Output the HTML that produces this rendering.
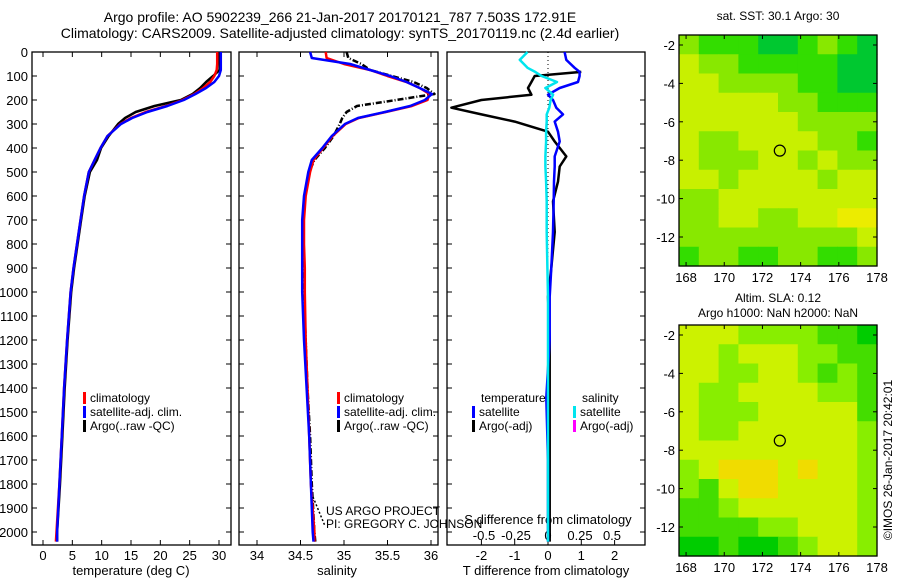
<!DOCTYPE html>
<html><head><meta charset="utf-8"><style>
body{margin:0;background:#fff;}
svg{display:block;font-family:"Liberation Sans",sans-serif;}
</style></head><body>
<svg id="fig" width="900" height="580" viewBox="0 0 900 580"></svg>
<script>
// ---------- data ----------
const depths = [0,25,50,75,100,125,150,175,200,225,250,275,300,350,400,450,500,600,700,800,900,1000,1200,1400,1600,1800,2000,2040];
const tempClim = [29.7,29.7,29.7,29.6,29.2,28.5,27.3,25.8,23.8,21,17.5,15,13.2,11,9.8,8.8,7.8,7,6.4,5.8,5.2,4.7,4.1,3.6,3.2,2.8,2.3,2.2];
const tempSat  = [30.3,30.3,30.3,30.3,30.0,29.2,27.8,26,24,21.2,17.8,15.2,13.3,11,9.8,8.8,7.8,7,6.4,5.8,5.2,4.7,4.1,3.6,3.2,2.8,2.4,2.4];
const tempArgo = [30.1,30.1,30.1,30.1,29.0,27.8,26.8,25.5,23.5,19,15.8,14,12.8,11.2,9.9,9.2,8.0,7.1,6.5,5.9,5.3,4.8,4.2,3.7,3.3,2.9,2.4,2.4];
const salClim = [34.79,34.80,35.0,35.3,35.5,35.72,35.87,35.98,35.96,35.78,35.48,35.17,35.02,34.87,34.76,34.65,34.61,34.56,34.54,34.54,34.55,34.55,34.56,34.58,34.6,34.62,34.66,34.66];
const salSat  = [34.61,34.63,35.07,35.3,35.53,35.72,35.87,36.01,35.93,35.76,35.47,35.16,35.01,34.86,34.75,34.63,34.59,34.54,34.52,34.52,34.52,34.52,34.54,34.57,34.6,34.62,34.64,34.65];
const salArgo = [35.03,35.05,35.2,35.3,35.55,35.8,35.95,36.04,35.6,35.15,35.03,34.98,34.95,34.88,34.78,34.66,34.6,34.55,34.53,34.53,34.54,34.54,34.56,34.58,34.61,34.63,34.66,34.67];
const diffDepths = [0,33,66,83,100,125,150,178,200,232,260,290,332,373,435,477,540,622,750,900,1020,1200,1440,1700,2000,2040];
const dTArgo = [null,null,null,1.0,-0.4,-0.5,-0.6,-0.5,-2.0,-2.9,-2.0,-1.0,0.0,0.2,0.55,0.35,0.3,0.15,0.2,0.1,0.0,0.05,0.05,0.05,0.05,0.05];
const dTSat  = [0.5,0.55,0.8,0.95,0.95,0.9,0.35,0.0,0.15,0.25,0.45,0.2,0.3,0.35,0.2,0.2,0.18,0.17,0.15,0.1,0.05,0.05,-0.05,0.0,0.0,0.0];
const dSSat  = [-0.16,-0.22,-0.16,-0.1,-0.05,0.07,-0.02,0.04,0.02,0.01,-0.01,-0.01,-0.015,-0.015,-0.02,-0.02,-0.015,-0.01,-0.01,-0.005,0.0,0.0,0.0,0.0,0.0,0.0];
const depthTicks = [0,100,200,300,400,500,600,700,800,900,1000,1100,1200,1300,1400,1500,1600,1700,1800,1900,2000];
const tempTicks = [0,5,10,15,20,25,30];
const salTicks = [34,34.5,35,35.5,36];
const dTTicks = [-2,-1,0,1,2];
const dSTicks = [-0.5,-0.25,0,0.25,0.5];
const lonTicks = [168,170,172,174,176,178];
const latTicks = [-2,-4,-6,-8,-10,-12];
const sstGrid = [
[2,1,1,1,0,0,1,2,1,0],
[3,2,2,1,1,1,1,1,0,0],
[3,3,2,2,2,2,1,1,0,0],
[3,3,3,3,3,2,2,1,1,1],
[3,3,3,3,3,3,2,2,2,2],
[3,2,2,3,3,3,3,2,2,1],
[3,2,2,2,3,3,2,3,2,2],
[3,3,2,3,3,3,3,2,3,3],
[2,2,3,3,3,3,3,3,3,3],
[2,2,3,3,2,2,3,3,4,4],
[2,2,2,2,2,2,2,2,2,3],
[1,2,2,1,1,2,2,1,1,2]];
const slaGrid = [
[3,3,3,2,2,2,2,1,1,0],
[3,3,2,3,3,3,2,2,1,1],
[3,3,2,2,3,3,2,1,2,1],
[3,2,2,3,3,3,3,2,2,1],
[3,2,2,2,3,3,3,3,3,1],
[3,2,2,3,3,3,3,3,3,2],
[3,3,3,3,3,3,3,3,3,2],
[2,3,4,4,4,3,4,3,3,2],
[2,1,3,4,4,3,3,3,3,2],
[1,1,2,3,3,3,3,3,3,2],
[1,1,1,1,2,2,3,3,3,2],
[0,0,1,0,0,1,2,3,3,2]];
const argoLon = 172.91, argoLat = -7.503;

// ---------- helpers ----------
const svg = document.getElementById('fig');
const NS = 'http://www.w3.org/2000/svg';
function mk(tag, attrs, name, parent){
  const el = document.createElementNS(NS, tag);
  for (const k in attrs) el.setAttribute(k, attrs[k]);
  
  
  (parent||svg).appendChild(el);
  return el;
}
function txt(x,y,s,name,opts){
  opts = opts||{};
  const t = mk('text',{x:x,y:y,'font-size':opts.size||13,'text-anchor':opts.anchor||'middle',fill:opts.fill||'#000'},name);
  if (opts.transform) t.setAttribute('transform', opts.transform);
  t.textContent = s;
  return t;
}
const yTop = 52, yPer = (532-52)/2000, yBot = 545;
const yD = d => yTop + d*yPer;

function panel(x0,x1,name){
  mk('rect',{x:x0,y:yTop,width:x1-x0,height:yBot-yTop,fill:'none',stroke:'#000','stroke-width':1.3},name+'-frame');
}
function yTicks(x0,x1,labels,name){
  depthTicks.forEach(d=>{
    const y=yD(d);
    mk('line',{x1:x0,y1:y,x2:x0+5,y2:y,stroke:'#000'},name+'-ytick');
    mk('line',{x1:x1,y1:y,x2:x1-5,y2:y,stroke:'#000'},name+'-ytick');
    if(labels) txt(x0-4,y+5,String(d),'depth-tick-label',{anchor:'end'});
  });
}
function xTicks(vals,fx,name,labelY,top){
  vals.forEach(v=>{
    const x=fx(v);
    mk('line',{x1:x,y1:yBot,x2:x,y2:yBot-5,stroke:'#000'},name+'-xtick');
    if(top) mk('line',{x1:x,y1:yTop,x2:x,y2:yTop+5,stroke:'#000'},name+'-xtick');
    if(labelY) txt(x,labelY,String(v),name+'-tick-label');
  });
}
function line(xs,ds,fx,color,w,name,dash){
  let p='', pen=false;
  xs.forEach((v,i)=>{
    if(v===null){pen=false;return;}
    p += (pen?'L':'M')+fx(v).toFixed(1)+' '+yD(ds[i]).toFixed(1)+' ';
    pen=true;
  });
  const a={d:p,fill:'none',stroke:color,'stroke-width':w,'stroke-linejoin':'round'};
  if(dash) a['stroke-dasharray']=dash;
  mk('path',a,name);
}
function legendEntry(x,y,color,label,name){
  mk('rect',{x:x,y:y-10,width:3,height:12,fill:color},name+'-swatch');
  txt(x+7,y,label,name,{anchor:'start',size:12});
}

// ---------- titles ----------
txt(340,22,'Argo profile: AO 5902239_266 21-Jan-2017 20170121_787 7.503S 172.91E','title-line-1',{size:14});
txt(340,38,'Climatology: CARS2009. Satellite-adjusted climatology: synTS_20170119.nc (2.4d earlier)','title-line-2',{size:14});

// ---------- panel 1: temperature ----------
const fT = t => 43 + t*(176/30);
panel(32,231,'temperature-panel');
yTicks(32,231,true,'temperature');
xTicks(tempTicks,fT,'temperature',560,true);
txt(131,575,'temperature (deg C)','temperature-axis-title');
line(tempArgo,depths,fT,'#000',2.5,'temperature-argo-line');
line(tempClim,depths,fT,'#f00',2.5,'temperature-climatology-line');
line(tempSat,depths,fT,'#00f',2.5,'temperature-satellite-line');
legendEntry(83,402,'#f00','climatology','temp-legend-climatology');
legendEntry(83,416,'#00f','satellite-adj. clim.','temp-legend-satellite');
legendEntry(83,430,'#000','Argo(..raw -QC)','temp-legend-argo');

// ---------- panel 2: salinity ----------
const fS = s => 257 + (s-34)*87;
panel(239,438,'salinity-panel');
yTicks(239,438,false,'salinity');
xTicks(salTicks,fS,'salinity',560,true);
txt(337,575,'salinity','salinity-axis-title');
line(salArgo,depths,fS,'#000',2.5,'salinity-argo-line','6 2 1 2');
line(salClim,depths,fS,'#f00',2.5,'salinity-climatology-line');
line(salSat,depths,fS,'#00f',2.5,'salinity-satellite-line');
legendEntry(337,402,'#f00','climatology','sal-legend-climatology');
legendEntry(337,416,'#00f','satellite-adj. clim.','sal-legend-satellite');
legendEntry(337,430,'#000','Argo(..raw -QC)','sal-legend-argo');
mk('path',{d:'M313 497 L325 526',stroke:'#000','stroke-width':1.5,'stroke-dasharray':'2 2',fill:'none'},'project-pointer');
txt(326,515,'US ARGO PROJECT','project-credit',{anchor:'start',size:12});
txt(326,528,'PI: GREGORY C. JOHNSON','pi-credit',{anchor:'start',size:12});

// ---------- panel 3: differences ----------
const fdT = t => 548 + t*33.3;
const fdS = s => 548 + s*128;
panel(447,645,'difference-panel');
yTicks(447,645,false,'difference');
xTicks(dTTicks,fdT,'t-difference',560,false);
dSTicks.forEach(v=>txt(fdS(v),540,String(v),'s-difference-tick-label'));
txt(548,524,'S difference from climatology','s-difference-axis-title');
txt(546,575,'T difference from climatology','t-difference-axis-title');
mk('line',{x1:fdT(0),y1:yTop,x2:fdT(0),y2:yBot,stroke:'#000','stroke-dasharray':'1 3'},'zero-line');
line(dTArgo,diffDepths,fdT,'#000',2.5,'t-difference-argo-line');
line(dTSat,diffDepths,fdT,'#00f',2.5,'t-difference-satellite-line');
line(dSSat,diffDepths,fdS,'#00e5ee',2.5,'s-difference-satellite-line');
txt(481,402,'temperature','diff-legend-temperature-header',{anchor:'start',size:12});
txt(582,402,'salinity','diff-legend-salinity-header',{anchor:'start',size:12});
legendEntry(472,416,'#00f','satellite','diff-legend-t-satellite');
legendEntry(472,430,'#000','Argo(-adj)','diff-legend-t-argo');
legendEntry(573,416,'#00e5ee','satellite','diff-legend-s-satellite');
legendEntry(573,430,'#ff00ff','Argo(-adj)','diff-legend-s-argo');

// ---------- maps ----------
const sstColors = ['#00c830','#33dd00','#88e800','#c8f000','#ecec00'];
const slaColors = ['#00cc00','#44dd00','#88ee00','#ccf200','#f0dc00'];
function drawMap(grid,colors,top,name){
  const x0=679,x1=877,lonL=167.63,lonR=178.0;
  const fx = lon => x0 + (lon-lonL)*(x1-x0)/(lonR-lonL);
  const fy = lat => top + 10 + (-2-lat)*19.2;
  const bottom = top+231;
  const cw=(x1-x0)/grid[0].length, ch=(bottom-top)/grid.length;
  grid.forEach((row,r)=>row.forEach((v,c)=>{
    mk('rect',{x:(x0+c*cw).toFixed(2),y:(top+r*ch).toFixed(2),width:(cw+0.6).toFixed(2),height:(ch+0.6).toFixed(2),fill:colors[v]},name+'-cell');
  }));
  mk('rect',{x:x0,y:top,width:x1-x0,height:bottom-top,fill:'none',stroke:'#000','stroke-width':1.3},name+'-frame');
  lonTicks.forEach(l=>{
    const x=fx(l);
    mk('line',{x1:x,y1:bottom,x2:x,y2:bottom-4,stroke:'#000'},name+'-xtick');
    mk('line',{x1:x,y1:top,x2:x,y2:top+4,stroke:'#000'},name+'-xtick');
    txt(x,bottom+16,String(l),name+'-lon-label');
  });
  latTicks.forEach(l=>{
    const y=fy(l);
    mk('line',{x1:x0,y1:y,x2:x0+4,y2:y,stroke:'#000'},name+'-ytick');
    mk('line',{x1:x1,y1:y,x2:x1-4,y2:y,stroke:'#000'},name+'-ytick');
    txt(x0-4,y+5,String(l),name+'-lat-label',{anchor:'end'});
  });
  mk('circle',{cx:fx(argoLon),cy:fy(argoLat),r:5.5,fill:'none',stroke:'#000','stroke-width':1.2},name+'-argo-location');
}
drawMap(sstGrid,sstColors,35,'sst-map');
txt(778,20,'sat. SST: 30.1 Argo: 30','sst-map-title',{size:12});
drawMap(slaGrid,slaColors,325,'sla-map');
txt(778,302,'Altim. SLA: 0.12','sla-map-title',{size:12});
txt(778,317,'Argo h1000: NaN h2000: NaN','sla-map-subtitle',{size:12});
txt(892,460,'©IMOS 26-Jan-2017 20:42:01','imos-timestamp',{size:12,transform:'rotate(-90 892 460)'});
</script>
</body></html>
